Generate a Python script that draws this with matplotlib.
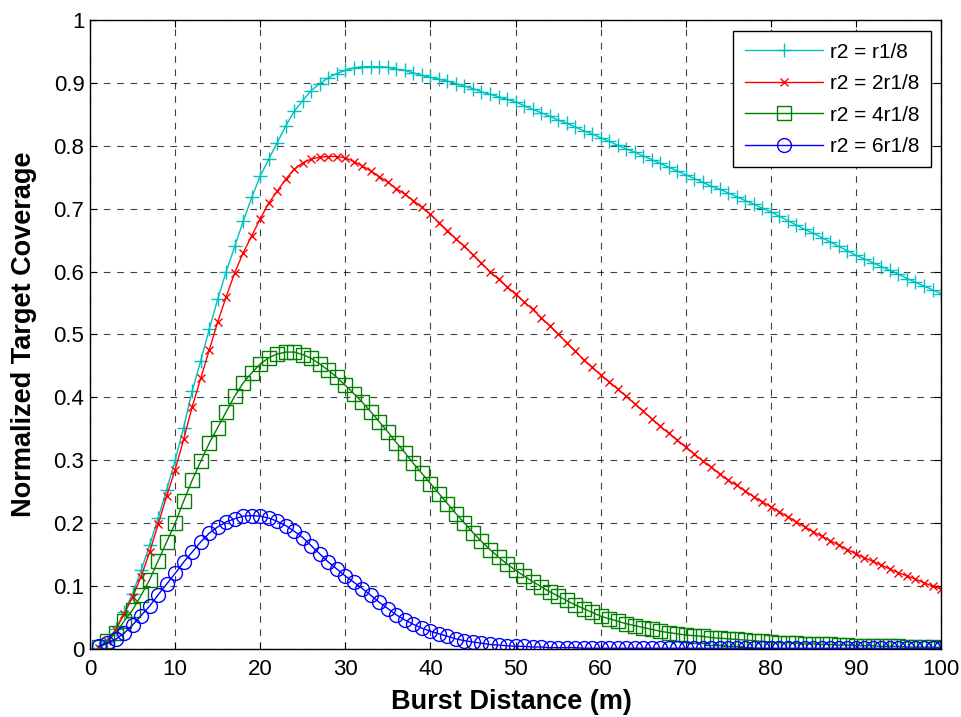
import numpy as np
import matplotlib
matplotlib.use('Agg')
import matplotlib.pyplot as plt

plt.rcParams['font.family'] = ['Liberation Sans', 'DejaVu Sans']

# burst distance (m)
distance = list(range(1, 101))

# r2 = r1/8
cov_r1 = [0.002, 0.011, 0.031, 0.058, 0.088, 0.125, 0.165, 0.208, 0.253, 0.300,
          0.352, 0.410, 0.458, 0.508, 0.556, 0.600, 0.640, 0.680, 0.718, 0.752,
          0.779, 0.805, 0.832, 0.855, 0.872, 0.888, 0.899, 0.908, 0.915, 0.920,
          0.924, 0.926, 0.926, 0.926, 0.925, 0.922, 0.920, 0.916, 0.912, 0.909,
          0.906, 0.903, 0.899, 0.895, 0.891, 0.886, 0.882, 0.878, 0.874, 0.870,
          0.864, 0.858, 0.853, 0.847, 0.841, 0.836, 0.830, 0.824, 0.819, 0.813,
          0.807, 0.801, 0.795, 0.790, 0.784, 0.778, 0.772, 0.766, 0.760, 0.754,
          0.748, 0.742, 0.736, 0.731, 0.725, 0.719, 0.713, 0.707, 0.701, 0.695,
          0.688, 0.681, 0.674, 0.667, 0.661, 0.654, 0.647, 0.640, 0.633, 0.626,
          0.620, 0.614, 0.608, 0.602, 0.596, 0.589, 0.583, 0.577, 0.571, 0.565]

# r2 = 2r1/8
cov_r2 = [0.002, 0.012, 0.030, 0.055, 0.083, 0.115, 0.154, 0.198, 0.243, 0.285,
          0.333, 0.385, 0.430, 0.475, 0.520, 0.560, 0.598, 0.630, 0.657, 0.684,
          0.709, 0.728, 0.747, 0.763, 0.773, 0.779, 0.782, 0.783, 0.783, 0.781,
          0.775, 0.768, 0.760, 0.751, 0.742, 0.732, 0.723, 0.713, 0.702, 0.691,
          0.678, 0.665, 0.652, 0.640, 0.627, 0.613, 0.600, 0.588, 0.576, 0.564,
          0.552, 0.540, 0.527, 0.514, 0.501, 0.487, 0.474, 0.460, 0.448, 0.436,
          0.425, 0.413, 0.402, 0.390, 0.378, 0.366, 0.354, 0.343, 0.332, 0.321,
          0.310, 0.299, 0.289, 0.278, 0.268, 0.260, 0.251, 0.242, 0.234, 0.226,
          0.218, 0.210, 0.202, 0.194, 0.186, 0.179, 0.172, 0.165, 0.158, 0.151,
          0.145, 0.139, 0.133, 0.127, 0.121, 0.116, 0.111, 0.105, 0.100, 0.095]

# r2 = 4r1/8
cov_r4 = [0.003, 0.012, 0.025, 0.044, 0.062, 0.085, 0.110, 0.140, 0.170, 0.200,
          0.235, 0.268, 0.298, 0.327, 0.352, 0.377, 0.402, 0.423, 0.439, 0.453,
          0.463, 0.469, 0.472, 0.472, 0.468, 0.462, 0.453, 0.443, 0.432, 0.419,
          0.406, 0.392, 0.377, 0.361, 0.345, 0.328, 0.312, 0.295, 0.279, 0.263,
          0.247, 0.231, 0.215, 0.200, 0.185, 0.171, 0.158, 0.146, 0.135, 0.125,
          0.116, 0.107, 0.099, 0.091, 0.084, 0.077, 0.070, 0.064, 0.058, 0.052,
          0.048, 0.044, 0.040, 0.037, 0.034, 0.031, 0.028, 0.026, 0.024, 0.022,
          0.021, 0.020, 0.018, 0.017, 0.016, 0.015, 0.014, 0.013, 0.012, 0.011,
          0.010, 0.010, 0.009, 0.008, 0.008, 0.007, 0.007, 0.006, 0.006, 0.005,
          0.005, 0.005, 0.004, 0.004, 0.004, 0.003, 0.003, 0.003, 0.003, 0.002]

# r2 = 6r1/8
cov_r6 = [0.004, 0.009, 0.015, 0.025, 0.038, 0.053, 0.068, 0.086, 0.103, 0.120,
          0.138, 0.154, 0.170, 0.184, 0.194, 0.202, 0.207, 0.211, 0.212, 0.211,
          0.208, 0.203, 0.196, 0.187, 0.177, 0.164, 0.151, 0.138, 0.127, 0.116,
          0.106, 0.096, 0.085, 0.074, 0.064, 0.054, 0.046, 0.039, 0.033, 0.028,
          0.024, 0.020, 0.016, 0.013, 0.011, 0.009, 0.007, 0.006, 0.005, 0.004,
          0.004, 0.003, 0.003, 0.002, 0.002, 0.002, 0.002, 0.001, 0.001, 0.001,
          0.001, 0.001, 0.001, 0.001, 0.001, 0.001, 0.001, 0.001, 0.001, 0.001,
          0.001, 0.001, 0.001, 0.001, 0.001, 0.001, 0.001, 0.001, 0.001, 0.001,
          0.001, 0.001, 0.001, 0.001, 0.001, 0.001, 0.001, 0.001, 0.001, 0.001,
          0.001, 0.001, 0.001, 0.001, 0.001, 0.001, 0.001, 0.001, 0.001, 0.001]

labels = ['r2 = r1/8', 'r2 = 2r1/8', 'r2 = 4r1/8', 'r2 = 6r1/8']

fig = plt.figure(figsize=(9.62, 7.17), dpi=100)
ax = fig.add_axes([0.0936, 0.095, 0.8846, 0.877])

ax.plot(distance, cov_r1, '-', color=(0.0, 0.75, 0.75), marker='+', markersize=10,
        markeredgewidth=1, linewidth=1, label=labels[0])
ax.plot(distance, cov_r2, '-', color='red', marker='x', markersize=6,
        markeredgewidth=1, linewidth=1, label=labels[1])
ax.plot(distance, cov_r4, '-', color=(0.0, 0.5, 0.0), marker='s', markersize=10,
        markerfacecolor='none', markeredgewidth=1, linewidth=1, label=labels[2])
ax.plot(distance, cov_r6, '-', color='blue', marker='o', markersize=10,
        markerfacecolor='none', markeredgewidth=1, linewidth=1, label=labels[3])

ax.set_xlim([0, 100])
ax.set_ylim([0, 1])
ax.set_xticks(np.arange(0, 101, 10))
ax.set_yticks(np.arange(0, 1.01, 0.1))
ax.set_yticklabels(['0', '0.1', '0.2', '0.3', '0.4', '0.5', '0.6', '0.7', '0.8', '0.9', '1'])
ax.tick_params(direction='in', top=True, right=True, labelsize=16, length=5)
ax.tick_params(axis='x', pad=7)
ax.tick_params(axis='y', pad=4)
ax.grid(True, color='black', linestyle=(0, (6, 6)), linewidth=0.8, alpha=0.75)
for s in ax.spines.values():
    s.set_linewidth(1)

ax.set_xlabel('Burst Distance (m)', fontsize=19.5, fontweight='bold')
ax.set_ylabel('Normalized Target Coverage', fontsize=19.5, fontweight='bold')
ax.xaxis.set_label_coords(0.495, -0.064)
ax.yaxis.set_label_coords(-0.062, 0.5)

leg = ax.legend(loc='upper right', fontsize=15, fancybox=False, framealpha=1,
                edgecolor='black', borderpad=0.55, labelspacing=0.6,
                handlelength=3.75, handletextpad=0.35, borderaxespad=0,
                bbox_to_anchor=(0.9883, 0.9825))
leg.get_frame().set_linewidth(1)

fig.savefig('out.png', dpi=100)
